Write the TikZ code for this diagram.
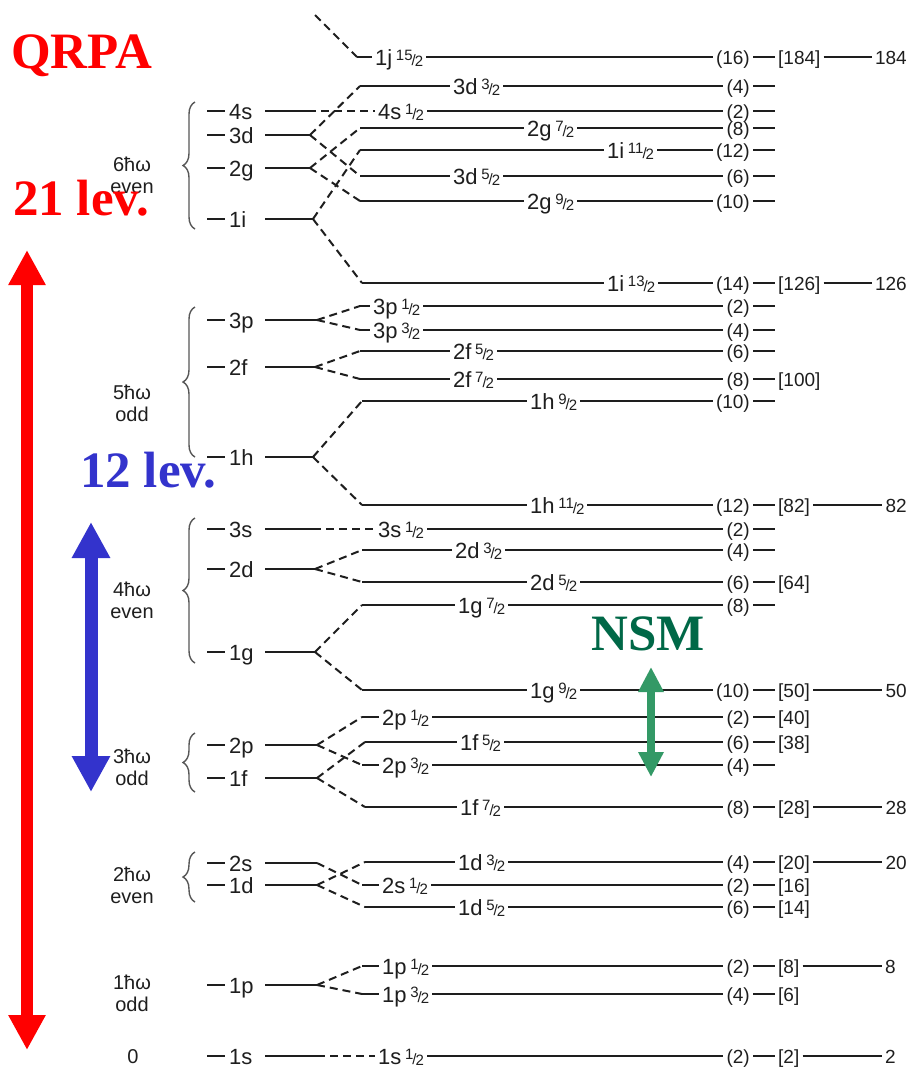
\documentclass[tikz,border=0pt]{standalone}
\usepackage{fontspec}
\setmainfont{Liberation Sans}
\newfontfamily\bigserif{Liberation Serif}
\usepackage{xcolor}
\usetikzlibrary{positioning}
\usetikzlibrary{arrows.meta}
\usetikzlibrary{decorations.pathreplacing}

\definecolor{ink}{HTML}{1E1E1E}
\definecolor{qrpared}{HTML}{FF0000}
\definecolor{levblue}{HTML}{3333CC}
\definecolor{nsmgreen}{HTML}{006847}
\definecolor{arrgreen}{HTML}{339966}

\newcommand{\jf}[2]{\,{\fontsize{15pt}{15pt}\selectfont\raisebox{5pt}{#1}\kern-1pt/\kern-1pt\raisebox{-1pt}{#2}}}

\begin{document}
\begin{tikzpicture}[
            x=1pt, y=-1pt,
            lvl/.style={ink, line width=2.2pt},
            split/.style={ink, line width=2pt, dash pattern=on 8pt off 5pt},
            jlab/.style={fill=white, text=ink, font=\fontsize{22pt}{22pt}\selectfont, inner sep=3pt, anchor=base west, xshift=-3pt, yshift=-8pt},
            nlab/.style={text=ink, font=\fontsize{22pt}{22pt}\selectfont, inner sep=4pt, anchor=base west, yshift=-8pt},
            deg/.style={text=ink, font=\fontsize{19pt}{19pt}\selectfont, inner sep=3pt, yshift=-7pt},
            hw/.style={text=ink, align=center, font=\fontsize{20pt}{22pt}\selectfont, inner sep=0pt},
            brc/.style={ink!75, line width=1.4pt, decorate, decoration={brace, amplitude=12pt}},
            big/.style={font=\bigserif\bfseries\fontsize{51pt}{51pt}\selectfont, inner sep=0pt, anchor=base west}
        ]
        \useasboundingbox (0,0) rectangle (914,1069);

        % j-levels
        \foreach \n/\y/\xs/\lx/\lab/\g in {
            1j15/57/357/375/{1j\jf{15}{2}}/16,
            3d3/86/360/453/{3d\jf{3}{2}}/4,
            4s1/111/380/378/{4s\jf{1}{2}}/2,
            2g7/128/360/527/{2g\jf{7}{2}}/8,
            1i11/150/360/607/{1i\jf{11}{2}}/12,
            3d5/176/360/453/{3d\jf{5}{2}}/6,
            2g9/201/360/527/{2g\jf{9}{2}}/10,
            1i13/283/362/607/{1i\jf{13}{2}}/14,
            3p1/306/360/373/{3p\jf{1}{2}}/2,
            3p3/330/360/373/{3p\jf{3}{2}}/4,
            2f5/351/360/453/{2f\jf{5}{2}}/6,
            2f7/379/360/453/{2f\jf{7}{2}}/8,
            1h9/401/362/530/{1h\jf{9}{2}}/10,
            1h11/505/362/530/{1h\jf{11}{2}}/12,
            3s1/529/380/378/{3s\jf{1}{2}}/2,
            2d3/550/362/455/{2d\jf{3}{2}}/4,
            2d5/582/362/530/{2d\jf{5}{2}}/6,
            1g7/605/362/458/{1g\jf{7}{2}}/8,
            1g9/690/362/530/{1g\jf{9}{2}}/10,
            2p1/717/362/382/{2p\jf{1}{2}}/2,
            1f5/742/365/460/{1f\jf{5}{2}}/6,
            2p3/765/362/382/{2p\jf{3}{2}}/4,
            1f7/807/365/460/{1f\jf{7}{2}}/8,
            1d3/862/365/458/{1d\jf{3}{2}}/4,
            2s1/885/362/382/{2s\jf{1}{2}}/2,
            1d5/907/365/458/{1d\jf{5}{2}}/6,
            1p1/966/362/382/{1p\jf{1}{2}}/2,
            1p3/994/362/382/{1p\jf{3}{2}}/4,
            1s1/1056/380/378/{1s\jf{1}{2}}/2}
        {
            \coordinate (s-\n) at (\xs,\y);
            \coordinate (t-\n) at (775,\y);
            \node[deg, anchor=base east] (d-\n) at (753,\y) {(\g)};
            \draw[lvl] (s-\n) -- (s-\n -| d-\n.west);
            \draw[lvl] (d-\n.east |- s-\n) -- (t-\n);
            \node[jlab] (l-\n) at (\lx,\y) {\lab};
        }

        % shell closures
        \foreach \n/\b in {1j15/184, 1i13/126, 2f7/100, 1h11/82, 2d5/64, 1g9/50, 2p1/40, 1f5/38,
                           1f7/28, 1d3/20, 2s1/16, 1d5/14, 1p1/8, 1p3/6, 1s1/2}
            \node[deg, anchor=base west] (k-\n) at (t-\n) {[\b]};
        \foreach \n/\x/\m in {1j15/910/184, 1i13/910/126, 1h11/910/82, 1g9/910/50,
                              1f7/910/28, 1d3/910/20, 1p1/899/8, 1s1/899/2}
        {
            \path (t-\n) ++({\x-775},0) coordinate (e-\n);
            \node[deg, anchor=base east] (m-\n) at (e-\n) {\m};
            \draw[lvl] (k-\n.east |- e-\n) -- (m-\n.west |- e-\n);
        }

        % oscillator levels
        \foreach \n/\y/\xp in {4s/111/308, 3d/135/310, 2g/168/310, 1i/219/313, 3p/320/317, 2f/367/315,
                               1h/457/313, 3s/529/313, 2d/569/315, 1g/652/315, 2p/745/317, 1f/778/317,
                               2s/863/317, 1d/885/317, 1p/985/317, 1s/1056/317}
        {
            \coordinate (a-\n) at (207,\y);
            \coordinate (c-\n) at (265,\y);
            \coordinate (p-\n) at (\xp,\y);
            \node[nlab] (o-\n) at (225,\y) {\n};
            \draw[lvl] (a-\n) -- (a-\n -| o-\n.west);
            \draw[lvl] (c-\n) -- (p-\n);
        }

        % spin-orbit splitting
        \foreach \a/\b in {3d/3d3, 3d/3d5, 2g/2g7, 2g/2g9, 1i/1i11, 1i/1i13, 3p/3p1, 3p/3p3,
                           2f/2f5, 2f/2f7, 1h/1h9, 1h/1h11, 2d/2d3, 2d/2d5, 1g/1g7, 1g/1g9,
                           2p/2p1, 2p/2p3, 1f/1f5, 1f/1f7, 2s/2s1, 1d/1d3, 1d/1d5, 1p/1p1, 1p/1p3}
            \draw[split] (p-\a) -- (s-\b);
        \foreach \a/\b in {4s/4s1, 3s/3s1, 1s/1s1}
            \draw[split] (p-\a) -- (p-\a -| l-\b.west);
        \coordinate (j-top) at (315,15);
        \draw[split] (j-top) -- (s-1j15);

        % major shells
        \node[hw] (n6) at (132,175) {6ħω\\even};
        \node[hw] (n5) at (132,403) {5ħω\\odd};
        \node[hw] (n4) at (132,600) {4ħω\\even};
        \node[hw] (n3) at (132,767) {3ħω\\odd};
        \node[hw] (n2) at (132,885) {2ħω\\even};
        \node[hw] (n1) at (132,993) {1ħω\\odd};
        \node[hw] (n0) at (133,1057) {0};

        \draw[brc] (195,229) -- (195,102);
        \draw[brc] (195,457) -- (195,307);
        \draw[brc] (195,663) -- (195,518);
        \draw[brc] (195,792) -- (195,733);
        \draw[brc] (195,902) -- (195,852);

        % model spaces
        \coordinate (r-top) at (27,250);
        \coordinate (r-bot) at (27,1050);
        \coordinate (b-top) at (91,522);
        \coordinate (b-bot) at (91,792);
        \coordinate (g-top) at (651,667);
        \coordinate (g-bot) at (651,777);
        \draw[qrpared, line width=12pt, {Triangle[width=35pt, length=35pt]}-{Triangle[width=35pt, length=35pt]}] (r-top) -- (r-bot);
        \draw[levblue, line width=13pt, {Triangle[width=36pt, length=36pt]}-{Triangle[width=36pt, length=36pt]}] (b-top) -- (b-bot);
        \draw[arrgreen, line width=8pt, {Triangle[width=24pt, length=25pt]}-{Triangle[width=24pt, length=25pt]}] (g-top) -- (g-bot);

        \node[big, text=qrpared] (qrpa) at (11,68) {QRPA};
        \node[big, text=qrpared] (lev21) at (13,215) {21 lev.};
        \node[big, text=levblue] (lev12) at (80,487) {12 lev.};
        \node[big, text=nsmgreen] (nsm) at (591,650) {NSM};
        \end{tikzpicture}
\end{document}
